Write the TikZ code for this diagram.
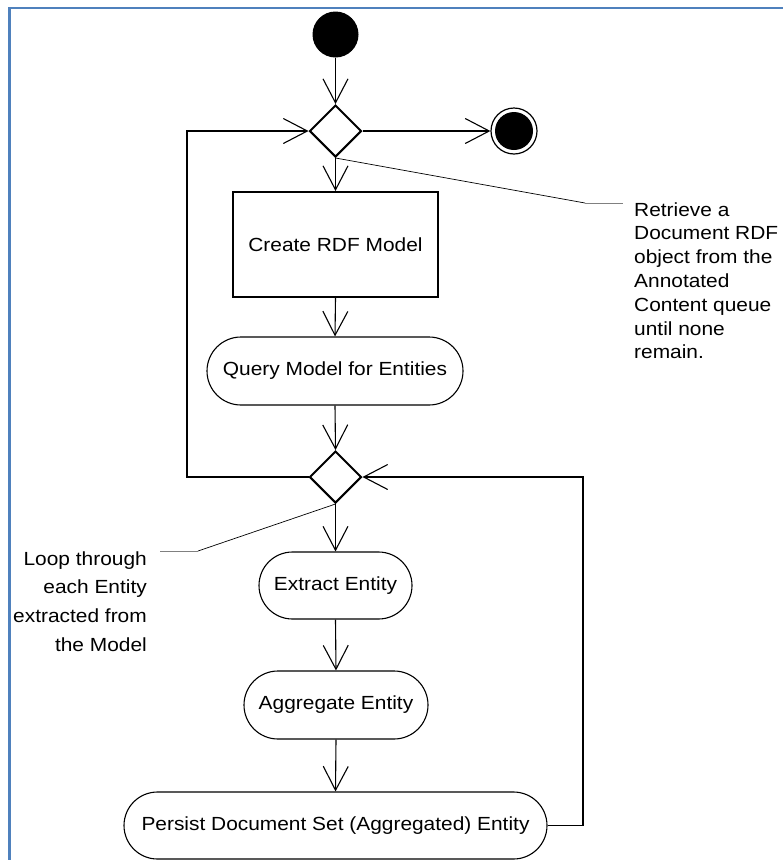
\documentclass[tikz,border=0pt]{standalone}
\usepackage{fontspec}
\setmainfont[FakeStretch=1.1]{Liberation Sans}
\usetikzlibrary{shapes.geometric,shapes.misc,arrows.meta}
\definecolor{frameblue}{RGB}{79,129,189}
\begin{document}
\begin{tikzpicture}[x=1pt,y=-1pt,
  every node/.style={font=\fontsize{19}{23.8}\selectfont},
  flow/.style={line width=1.1pt,-{Straight Barb[length=24pt,width=25pt]}},
  decision/.style={diamond,draw,line width=2pt,minimum width=52pt,minimum height=52pt,inner sep=0pt},
  action/.style={rounded rectangle,draw,line width=1.1pt,minimum height=67pt,inner sep=0pt},
  block/.style={rectangle,draw,line width=2pt,inner sep=0pt},
  initial/.style={circle,fill=black,minimum size=46pt,inner sep=0pt},
  leader/.style={line width=0.7pt},
  notetext/.style={inner sep=0pt}]
\useasboundingbox (0,0) rectangle (783,860);
% page frame
\draw[frameblue,line width=2.6pt] (9.5,861) -- (9.5,8) -- (784,8);

% nodes
\node[initial] (start) at (335.5,34.5) {};
\node[decision] (d1) at (335.5,131) {};
\node[circle,draw,line width=1.2pt,minimum size=46pt,inner sep=0pt] (final) at (514,131) {};
\node[circle,fill=black,minimum size=38pt,inner sep=0pt] (finaldot) at (final.center) {};
\node[block,minimum width=205pt,minimum height=105pt] (create) at (335.5,244.5) {Create RDF Model};
\node[action,minimum width=256pt,minimum height=68pt] (query) at (335,371) {Query Model for Entities};
\node[decision] (d2) at (335.5,477) {};
\node[action,minimum width=153pt] (extract) at (335.5,585.5) {Extract Entity};
\node[action,minimum width=184pt,minimum height=68pt] (aggregate) at (336,705) {Aggregate Entity};
\node[action,minimum width=423pt] (persist) at (335.5,825.5) {Persist Document Set (Aggregated) Entity};

% notes (base anchor sits on the last line)
\node[notetext,anchor=base west,align=left] (note1) at (634,358.8)
  {Retrieve a\\Document RDF\\object from the\\Annotated\\Content queue\\until none\\remain.};
\node[notetext,anchor=base east,align=right,font=\fontsize{19}{28.7}\selectfont] (note2) at (147,651.1)
  {Loop through\\each Entity\\extracted from\\the Model};

% helper points for the loops and leaders
\coordinate (loopL) at (187,477);
\coordinate (loopR) at (583,825.5);
\coordinate (n1a) at (585,203);
\coordinate (n1b) at (623,203);
\coordinate (n2a) at (198,551);
\coordinate (n2b) at (160,551);

% connectors
\draw[flow] (start) -- (d1.north);
\draw[flow] (d1.east) -- (final.west);
\draw[flow] (d1.south) -- (create.north);
\draw[flow] (create.south) -- (query.north);
\draw[flow] (query.south) -- (d2.north);
\draw[flow] (d2.west) -- (loopL) |- (d1.west);
\draw[flow] (d2.south) -- (extract.north);
\draw[flow] (extract.south) -- (aggregate.north);
\draw[flow] (aggregate.south) -- (persist.north);
\draw[flow] (persist.east) -- (loopR) |- (d2.east);

% note leaders
\draw[leader] (d1.south) -- (n1a);
\draw[leader,gray] (n1a) -- (n1b);
\draw[leader] (d2.south) -- (n2a);
\draw[leader,gray] (n2a) -- (n2b);
\end{tikzpicture}
\end{document}
